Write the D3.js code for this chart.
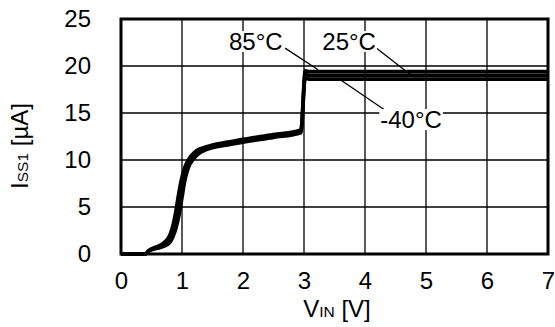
<!DOCTYPE html>
<html>
<head>
<meta charset="utf-8">
<script src="https://cdn.jsdelivr.net/npm/d3@7"></script>
<style>
  body { margin: 0; background: #fff; }
  svg { display: block; font-family: "Liberation Sans", Arial, sans-serif; }
</style>
</head>
<body>
<div id="chart"></div>
<script>
// VIN [V] sample points
const vin = [0, 0.4, 0.45, 0.5, 0.6, 0.7, 0.8, 0.85, 0.9, 0.95, 1.0, 1.05, 1.1, 1.2, 1.3, 1.4, 1.5, 1.75, 2.0, 2.5, 2.95, 3.02, 3.1, 3.5, 4, 5, 6, 6.8, 7];
// ISS1 [uA] per temperature
const iss85 = [0, 0, 0.35, 0.55, 0.8, 1.2, 2.0, 3.0, 4.6, 6.6, 8.2, 9.3, 10.0, 10.8, 11.2, 11.4, 11.6, 11.9, 12.2, 12.7, 13.2, 19.5, 19.4, 19.4, 19.4, 19.4, 19.4, 19.4, 19.4];
const iss25 = [0, 0, 0.3, 0.5, 0.7, 1.0, 1.7, 2.5, 3.8, 5.6, 7.5, 8.8, 9.7, 10.6, 11.1, 11.3, 11.5, 11.8, 12.1, 12.6, 13.1, 19.1, 19.0, 19.0, 19.0, 19.0, 19.0, 19.0, 19.0];
const issM40 = [0, 0, 0.25, 0.45, 0.6, 0.8, 1.2, 1.8, 2.7, 4.1, 6.0, 7.9, 9.1, 10.2, 10.8, 11.1, 11.3, 11.6, 11.9, 12.4, 12.9, 18.7, 18.6, 18.6, 18.6, 18.6, 18.6, 18.6, 18.6];

const xTicks = [0, 1, 2, 3, 4, 5, 6, 7];
const yTicks = [0, 5, 10, 15, 20, 25];

// annotation labels: text position and leader line end (data units)
const labels = [
  { text: "85°C", x: 1.77, y: 21.7, lx1: 2.69, ly1: 21.9, lx2: 3.23, ly2: 19.6 },
  { text: "25°C", x: 3.30, y: 21.7, lx1: 4.19, ly1: 21.9, lx2: 4.74, ly2: 19.1 },
  { text: "-40°C", x: 4.25, y: 13.4, lx1: 4.33, ly1: 15.3, lx2: 3.56, ly2: 18.7 }
];

const width = 555, height = 327;
const margin = { top: 19, right: 7, bottom: 73, left: 121 };
const w = width - margin.left - margin.right;
const h = height - margin.top - margin.bottom;

const svg = d3.select("#chart").append("svg")
  .attr("width", width)
  .attr("height", height);

const g = svg.append("g")
  .attr("transform", `translate(${margin.left},${margin.top})`);

const x = d3.scaleLinear().domain([0, 7]).range([0, w]);
const y = d3.scaleLinear().domain([0, 25]).range([h, 0]);

// grid
g.selectAll(".gx").data(xTicks).enter().append("line")
  .attr("x1", d => x(d)).attr("x2", d => x(d))
  .attr("y1", 0).attr("y2", h)
  .attr("stroke", "#000").attr("stroke-width", 1.3);
g.selectAll(".gy").data(yTicks).enter().append("line")
  .attr("x1", 0).attr("x2", w)
  .attr("y1", d => y(d)).attr("y2", d => y(d))
  .attr("stroke", "#000").attr("stroke-width", 1.3);

// curves
const line = d3.line()
  .x(d => x(d[0]))
  .y(d => y(d[1]))
  .curve(d3.curveMonotoneX);

[iss85, iss25, issM40].forEach(s => {
  g.append("path")
    .datum(vin.map((v, i) => [v, s[i]]))
    .attr("fill", "none")
    .attr("stroke", "#000")
    .attr("stroke-width", 3.6)
    .attr("stroke-linejoin", "round")
    .attr("d", line);
});

// leader lines
g.selectAll(".leader").data(labels).enter().append("line")
  .attr("x1", d => x(d.lx1)).attr("y1", d => y(d.ly1))
  .attr("x2", d => x(d.lx2)).attr("y2", d => y(d.ly2))
  .attr("stroke", "#000").attr("stroke-width", 1.3);

// labels with white backing
labels.forEach(d => {
  const t = g.append("text")
    .attr("x", x(d.x)).attr("y", y(d.y))
    .attr("font-size", 24)
    .text(d.text);
  const b = t.node().getBBox();
  g.insert("rect", "text")
    .attr("x", b.x - 1).attr("y", b.y + 3)
    .attr("width", b.width + 2).attr("height", b.height - 6)
    .attr("fill", "#fff");
});
g.selectAll("text").raise();

// frame
g.append("rect")
  .attr("width", w).attr("height", h)
  .attr("fill", "none")
  .attr("stroke", "#000")
  .attr("stroke-width", 3);

// axes
const xAxis = g.append("g")
  .attr("transform", `translate(0,${h})`)
  .call(d3.axisBottom(x).tickValues(xTicks).tickFormat(d3.format("d")).tickSize(0).tickPadding(18));
const yAxis = g.append("g")
  .call(d3.axisLeft(y).tickValues(yTicks).tickFormat(d3.format("d")).tickSize(0).tickPadding(30));
[xAxis, yAxis].forEach(a => {
  a.select(".domain").remove();
  a.selectAll("text")
    .attr("font-size", 24)
    .attr("font-family", "'Liberation Sans', Arial, sans-serif")
    .attr("fill", "#000");
});

// axis titles
const xt = svg.append("text")
  .attr("x", 337).attr("y", 317)
  .attr("text-anchor", "middle")
  .attr("font-size", 24);
xt.append("tspan").text("V");
xt.append("tspan").attr("font-size", 15.5).text("IN");
xt.append("tspan").text(" [V]");

const yt = svg.append("text")
  .attr("transform", "translate(28,146) rotate(-90)")
  .attr("text-anchor", "middle")
  .attr("font-size", 24);
yt.append("tspan").text("I");
yt.append("tspan").attr("font-size", 15.5).text("SS1");
yt.append("tspan").text(" [µA]");
</script>
</body>
</html>
